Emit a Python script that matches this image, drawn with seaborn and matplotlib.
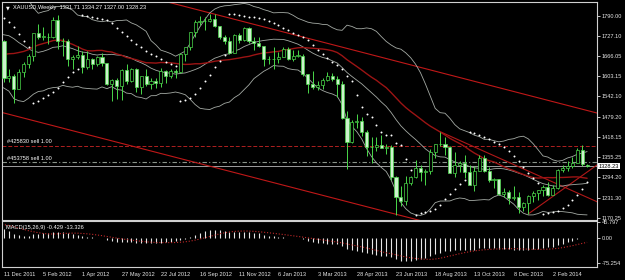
import numpy as np
import pandas as pd
import matplotlib
matplotlib.use("Agg")
import matplotlib.pyplot as plt
import matplotlib.transforms as mtrans
import seaborn as sns

# ---------------- data ----------------
# weekly closes before the visible window (2 Jan 2011 .. 4 Dec 2011), used by the indicators
pre_close = [1369, 1360, 1342, 1318, 1349, 1361, 1388, 1409, 1429, 1427, 1418, 1427, 1429,
             1474, 1486, 1504, 1556, 1491, 1493, 1492, 1536, 1542, 1529, 1539, 1502, 1486,
             1542, 1592, 1601, 1628, 1663, 1743, 1852, 1828, 1877, 1855, 1813, 1657, 1622,
             1636, 1682, 1642, 1744, 1752, 1788, 1723, 1683, 1747, 1713]

# visible weekly bars, 11 Dec 2011 .. 23 Mar 2014
opens = [1713, 1598, 1606, 1565, 1616, 1640, 1665, 1735, 1725, 1725, 1724, 1775, 1711, 1711, 1656, 1662,
         1668, 1631, 1658, 1642, 1663, 1644, 1580, 1591, 1573, 1622, 1590, 1626, 1572, 1604, 1579, 1590,
         1582, 1620, 1605, 1620, 1616, 1671, 1692, 1739, 1771, 1773, 1774, 1780, 1757, 1724, 1711, 1676,
         1731, 1714, 1751, 1712, 1705, 1696, 1658, 1657, 1656, 1662, 1687, 1658, 1667, 1667, 1610, 1581,
         1572, 1577, 1592, 1605, 1596, 1580, 1477, 1403, 1463, 1468, 1434, 1386, 1387, 1392, 1383, 1387,
         1296, 1234, 1223, 1277, 1296, 1322, 1310, 1312, 1372, 1395, 1396, 1387, 1308, 1333, 1338, 1310,
         1272, 1315, 1352, 1315, 1286, 1288, 1244, 1250, 1230, 1234, 1203, 1214, 1237, 1247, 1254, 1264,
         1240, 1262, 1318, 1323, 1330, 1339, 1379, 1331.71]
highs = [1716, 1625, 1611, 1627, 1648, 1673, 1737, 1764, 1754, 1737, 1785, 1792, 1720, 1717, 1669, 1696,
         1682, 1682, 1660, 1667, 1675, 1645, 1595, 1597, 1627, 1641, 1628, 1628, 1605, 1625, 1600, 1597,
         1628, 1624, 1626, 1626, 1675, 1692, 1740, 1777, 1788, 1786, 1796, 1795, 1757, 1731, 1724, 1733,
         1737, 1754, 1754, 1723, 1725, 1698, 1667, 1693, 1679, 1695, 1694, 1684, 1684, 1673, 1612, 1619,
         1589, 1597, 1616, 1615, 1605, 1588, 1497, 1469, 1488, 1479, 1440, 1417, 1419, 1424, 1397, 1392,
         1298, 1267, 1298, 1298, 1348, 1333, 1320, 1381, 1395, 1434, 1417, 1389, 1372, 1345, 1361, 1332,
         1328, 1361, 1362, 1325, 1292, 1289, 1262, 1254, 1267, 1248, 1218, 1241, 1251, 1256, 1271, 1280,
         1271, 1320, 1332, 1345, 1355, 1383, 1392, 1334.27]
lows = [1587, 1585, 1523, 1565, 1603, 1628, 1650, 1718, 1714, 1704, 1720, 1688, 1665, 1636, 1627, 1657,
        1614, 1627, 1626, 1636, 1634, 1577, 1527, 1533, 1532, 1580, 1585, 1556, 1548, 1575, 1564, 1568,
        1572, 1582, 1597, 1598, 1614, 1651, 1685, 1725, 1760, 1745, 1769, 1756, 1718, 1702, 1672, 1674,
        1705, 1712, 1705, 1684, 1693, 1636, 1642, 1626, 1645, 1662, 1654, 1652, 1662, 1605, 1554, 1565,
        1562, 1565, 1590, 1590, 1539, 1472, 1321, 1398, 1444, 1422, 1359, 1338, 1375, 1385, 1365, 1285,
        1180, 1207, 1209, 1270, 1291, 1283, 1272, 1304, 1354, 1390, 1364, 1306, 1296, 1311, 1292, 1271,
        1251, 1312, 1310, 1281, 1262, 1241, 1235, 1211, 1224, 1185, 1191, 1182, 1218, 1224, 1236, 1238,
        1239, 1259, 1309, 1315, 1323, 1337, 1328, 1327.00]
closes = [1598, 1606, 1565, 1616, 1640, 1665, 1735, 1725, 1725, 1724, 1775, 1711, 1711, 1656, 1662, 1668,
          1631, 1658, 1642, 1663, 1644, 1580, 1591, 1573, 1622, 1590, 1626, 1572, 1604, 1579, 1590, 1582,
          1620, 1605, 1620, 1616, 1671, 1692, 1739, 1771, 1773, 1774, 1780, 1757, 1724, 1711, 1676, 1731,
          1714, 1751, 1712, 1705, 1696, 1658, 1657, 1656, 1662, 1687, 1658, 1667, 1667, 1610, 1581, 1572,
          1577, 1592, 1605, 1596, 1580, 1477, 1403, 1463, 1468, 1434, 1386, 1387, 1392, 1383, 1387, 1296,
          1234, 1223, 1277, 1296, 1322, 1310, 1312, 1372, 1395, 1396, 1387, 1308, 1333, 1338, 1310, 1272,
          1315, 1352, 1315, 1286, 1288, 1244, 1250, 1230, 1234, 1203, 1214, 1237, 1247, 1254, 1264, 1240,
          1262, 1318, 1323, 1330, 1339, 1379, 1335, 1328.23]

date_labels = ["11 Dec 2011", "5 Feb 2012", "1 Apr 2012", "27 May 2012", "22 Jul 2012",
               "16 Sep 2012", "11 Nov 2012", "6 Jan 2013", "3 Mar 2013", "28 Apr 2013",
               "23 Jun 2013", "18 Aug 2013", "13 Oct 2013", "8 Dec 2013", "2 Feb 2014"]
date_label_bars = [0, 8, 16, 24, 32, 40, 48, 56, 64, 72, 80, 88, 96, 104, 112]

price_ticks = [1790.00, 1727.10, 1666.05, 1603.15, 1542.10, 1479.20, 1418.15,
               1355.25, 1294.20, 1231.30, 1170.25]
macd_ticks = [45.797, 0.00, -75.254]
last_price = 1328.23

# drawn objects: trend lines (bar index, price) pairs
trend_upper = [(31.8, 1837.5), (121.0, 1491.2)]
trend_lower = [(-0.8, 1494.3), (121.0, 1021.8)]
trend_down = [(89.0, 1434.0), (121.6, 1215.4)]
trend_up = [(107.0, 1182.0), (121.6, 1338.0)]
# order lines
sl_level = 1391.0
order_level = 1340.0

sar_start = dict(sar=1782.0, ep=1670.0, af=0.04, trend=-1)

# ---------------- indicators ----------------
n = len(closes)
npre = len(pre_close)
allc = pd.Series(pre_close + closes, dtype=float)
bb_mid = allc.rolling(20).mean()
bb_sd = allc.rolling(20).std(ddof=0)
bb_up = bb_mid + 2 * bb_sd
bb_lo = bb_mid - 2 * bb_sd
ma30 = allc.rolling(30).mean()
macd = allc.ewm(span=15, adjust=False).mean() - allc.ewm(span=26, adjust=False).mean()
sig = macd.rolling(9).mean()

xi = np.arange(-1, n)          # one bar before the window so lines reach the edge
sl = slice(npre - 1, npre + n)


def psar(h, l, sar, ep, af, trend, step=0.02, amax=0.2):
    out = np.empty(len(h))
    for i in range(len(h)):
        if i > 0:
            sar = sar + af * (ep - sar)
            if trend > 0:
                sar = min(sar, l[i - 1], l[max(i - 2, 0)])
            else:
                sar = max(sar, h[i - 1], h[max(i - 2, 0)])
        if trend > 0 and l[i] < sar:
            trend, sar, ep, af = -1, ep, l[i], step
        elif trend < 0 and h[i] > sar:
            trend, sar, ep, af = 1, ep, h[i], step
        else:
            if trend > 0 and h[i] > ep:
                ep, af = h[i], min(af + step, amax)
            if trend < 0 and l[i] < ep:
                ep, af = l[i], min(af + step, amax)
        out[i] = sar
    return out


sar = psar(highs, lows, **sar_start)

# ---------------- figure ----------------
sns.set_style("dark", {"axes.facecolor": "black", "figure.facecolor": "black"})
plt.rcParams["font.family"] = ["Liberation Sans", "DejaVu Sans"]

W, H = 625, 280
fig = plt.figure(figsize=(W / 100, H / 100), dpi=100, facecolor="black")
L, R = 2, 597
ax = fig.add_axes([L / W, (H - 220) / H, (R - L) / W, 218 / H])
ax2 = fig.add_axes([L / W, (H - 267) / H, (R - L) / W, 46 / H])

px_per_bar = 4.9
x0 = -(4 - L) / px_per_bar
x1 = x0 + (R - L) / px_per_bar
for a in (ax, ax2):
    a.set_facecolor("black")
    a.set_xlim(x0, x1)
    for s in a.spines.values():
        s.set_color("#d0d0d0")
        s.set_linewidth(0.8)
    a.grid(False)

ax.set_ylim(1163.3, 1831.4)
ax2.set_ylim(-87.2, 49.7)

idx = np.arange(n)
df = pd.DataFrame({"i": idx, "o": opens, "h": highs, "l": lows, "c": closes, "sar": sar})

# order / price lines
ax.axhline(sl_level, color="#b02020", lw=0.7, ls=(0, (4, 2)))
ax.axhline(order_level, color="#8a948a", lw=0.8, ls=(0, (4, 2, 1, 2)))
ax.axhline(last_price, color="#b8b8b8", lw=0.6)

# trend lines
for pts, col in ((trend_upper, "#c01818"), (trend_lower, "#c01818"),
                 (trend_down, "#b01818"), (trend_up, "#b01818")):
    (xa, ya), (xb, yb) = pts
    ax.plot([xa, xb], [ya, yb], color=col, lw=0.8)

# bands and MA
bdf = pd.DataFrame({"i": xi, "up": bb_up[sl].values, "mid": bb_mid[sl].values,
                    "lo": bb_lo[sl].values, "ma": ma30[sl].values})
for col in ("up", "mid", "lo"):
    sns.lineplot(data=bdf, x="i", y=col, ax=ax, color="#a4aaa4", lw=0.6)
sns.lineplot(data=bdf, x="i", y="ma", ax=ax, color="#9c1414", lw=1.0)

# candles
bull = df["c"] >= df["o"]
ax.vlines(df["i"], df["l"], df["h"], color="#4ad84a", lw=0.7, zorder=3)
body_lo = np.minimum(df["o"], df["c"])
body_h = np.maximum(np.abs(df["c"] - df["o"]), 1.0)
ax.bar(df["i"][bull], body_h[bull], bottom=body_lo[bull], width=0.62,
       color="black", edgecolor="#4ad84a", lw=0.5, zorder=4)
ax.bar(df["i"][~bull], body_h[~bull], bottom=body_lo[~bull], width=0.62,
       color="#ccf2cc", edgecolor="#4ad84a", lw=0.5, zorder=4)

# parabolic SAR
sns.scatterplot(data=df, x="i", y="sar", ax=ax, s=2.0, color="white", linewidth=0, zorder=5)

# axis labels on the right
fs = 4.1
ax.yaxis.tick_right()
ax.set_yticks(price_ticks)
ax.set_yticklabels([f"{v:.2f}" for v in price_ticks])
ax.tick_params(axis="y", colors="#e8e8e8", labelsize=fs, length=2, width=0.6, pad=1.5, direction="out")
ax.tick_params(axis="x", bottom=False, labelbottom=False)
ax.set_xlabel("")
ax.set_ylabel("")
blend = mtrans.blended_transform_factory(ax.transAxes, ax.transData)
ax.text(1.003, last_price, f"{last_price:.2f}", transform=blend, fontsize=fs, color="black",
        va="center", ha="left", bbox=dict(facecolor="white", edgecolor="none", pad=0.5), zorder=10,
        clip_on=False)

# texts
ax.text(4 / 595, 1 - 6 / 218, "\u25bc", transform=ax.transAxes, fontsize=3.5, color="white",
        va="center", ha="left", family="DejaVu Sans")
ax.text(11 / 595, 1 - 6 / 218, "XAUUSD,Weekly  1331.71 1334.27 1327.00 1328.23",
        transform=ax.transAxes, fontsize=fs, color="white", va="center", ha="left")
ax.text(0.7, sl_level + 4, "#425830 sell 1.00", fontsize=fs, color="white", va="bottom", ha="left")
ax.text(0.7, order_level + 4, "#453758 sell 1.00", fontsize=fs, color="white", va="bottom", ha="left")

# MACD
ax2.vlines(idx, 0, macd[npre:].values, color="#e6e6e6", lw=0.8)
mdf = pd.DataFrame({"i": xi, "sig": sig[sl].values})
sns.lineplot(data=mdf, x="i", y="sig", ax=ax2, color="#c02828", lw=0.8, linestyle=":")
ax2.text(4 / 595, 1 - 6 / 46, "MACD(15,26,9) -0.429 -13.326", transform=ax2.transAxes,
         fontsize=fs, color="white", va="center", ha="left")
ax2.yaxis.tick_right()
ax2.set_yticks(macd_ticks)
ax2.set_yticklabels(["45.797", "0.00", "-75.254"])
ax2.tick_params(axis="y", colors="#e8e8e8", labelsize=fs, length=2, width=0.6, pad=1.5)
ax2.set_xticks(date_label_bars)
ax2.set_xticklabels(date_labels)
ax2.tick_params(axis="x", colors="#e8e8e8", labelsize=fs, length=2, width=0.6, pad=1.5, direction="out")
for t in ax2.get_xticklabels():
    t.set_ha("left")
ax2.set_xlabel("")
ax2.set_ylabel("")

fig.savefig("out.png", dpi=100, facecolor="black")
